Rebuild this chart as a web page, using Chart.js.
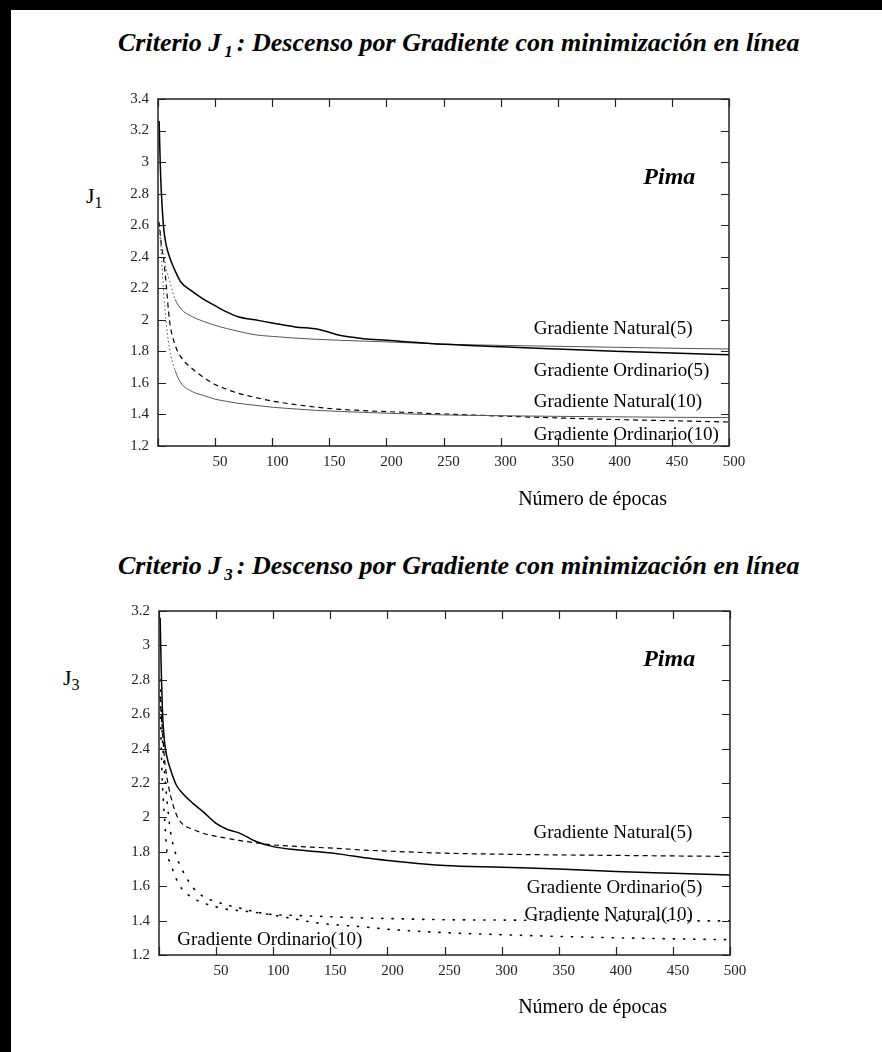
<!DOCTYPE html>
<html>
<head>
<meta charset="utf-8">
<script src="https://cdn.jsdelivr.net/npm/chart.js@4.4.1/dist/chart.umd.min.js"></script>
<style>
  html, body { margin:0; padding:0; background:#fff; }
  #page { position:relative; width:882px; height:1052px; overflow:hidden; background:#fff;
          font-family:"Liberation Serif", "Times New Roman", serif; color:#000; }
  .barIzq { position:absolute; left:0; top:0; width:11px; height:1052px; background:#000; z-index:5; }
  .barSup { position:absolute; left:0; top:0; width:882px; height:10px; background:#000; z-index:5; }
  canvas { position:absolute; left:0; }
  .titulo { position:absolute; font-weight:bold; font-style:italic; font-size:26px; line-height:30px; white-space:nowrap; }
  .titulo sub { font-size:17px; vertical-align:-6px; margin-left:3px; margin-right:4px; }
  .jlab { position:absolute; font-size:22px; line-height:24px; white-space:nowrap; }
  .jlab sub { font-size:16px; vertical-align:-5px; }
  .xlab { position:absolute; font-size:20px; line-height:24px; white-space:nowrap; text-align:right; width:200px; }
</style>
</head>
<body>
<div id="page">
  <div class="barIzq"></div>
  <div class="barSup"></div>

  <div class="titulo" style="left:118px; top:28px;">Criterio J<sub>1</sub>: Descenso por Gradiente con minimización en línea</div>
  <div class="jlab" style="left:86px; top:184px;">J<sub>1</sub></div>
  <canvas id="grafJ1" width="882" height="520" style="top:0px;"></canvas>
  <div class="xlab" style="left:467px; top:486px;">Número de épocas</div>

  <div class="titulo" style="left:118px; top:551px;">Criterio J<sub>3</sub>: Descenso por Gradiente con minimización en línea</div>
  <div class="jlab" style="left:63px; top:666px;">J<sub>3</sub></div>
  <canvas id="grafJ3" width="882" height="532" style="top:520px;"></canvas>
  <div class="xlab" style="left:467px; top:994px;">Número de épocas</div>
</div>

<script>
  // epocas (eje x) comunes a todas las curvas
  const epocas = [1, 2, 3, 5, 7, 10, 15, 20, 30, 40, 50, 60, 70, 85, 100, 120, 140, 160, 180, 200, 250, 300, 350, 400, 450, 500];

  // Criterio J1
  const j1Ordinario5  = [3.26, 2.98, 2.80, 2.58, 2.48, 2.40, 2.31, 2.24, 2.18, 2.13, 2.09, 2.05, 2.02, 2.00, 1.98, 1.955, 1.94, 1.90, 1.88, 1.87, 1.845, 1.83, 1.815, 1.80, 1.79, 1.778];
  const j1Natural5    = [2.62, 2.55, 2.48, 2.42, 2.33, 2.25, 2.13, 2.07, 2.02, 1.99, 1.965, 1.945, 1.928, 1.905, 1.895, 1.884, 1.876, 1.870, 1.865, 1.86, 1.846, 1.838, 1.832, 1.826, 1.82, 1.815];
  const j1Natural10   = [2.60, 2.50, 2.40, 2.17, 2.00, 1.82, 1.68, 1.60, 1.545, 1.52, 1.497, 1.483, 1.471, 1.458, 1.446, 1.435, 1.425, 1.419, 1.413, 1.408, 1.397, 1.392, 1.388, 1.385, 1.382, 1.38];
  const j1Ordinario10 = [2.62, 2.55, 2.47, 2.38, 2.24, 2.00, 1.84, 1.765, 1.69, 1.635, 1.59, 1.56, 1.535, 1.508, 1.485, 1.463, 1.445, 1.432, 1.424, 1.418, 1.403, 1.39, 1.378, 1.368, 1.36, 1.352];

  // Criterio J3
  const j3Ordinario5  = [3.16, 2.85, 2.62, 2.43, 2.35, 2.28, 2.19, 2.145, 2.08, 2.025, 1.965, 1.93, 1.91, 1.86, 1.83, 1.812, 1.80, 1.785, 1.765, 1.75, 1.72, 1.71, 1.70, 1.685, 1.675, 1.665];
  const j3Natural5    = [2.70, 2.60, 2.50, 2.33, 2.23, 2.13, 2.02, 1.965, 1.93, 1.905, 1.89, 1.878, 1.866, 1.852, 1.84, 1.832, 1.825, 1.818, 1.81, 1.804, 1.792, 1.786, 1.782, 1.779, 1.776, 1.773];
  const j3Natural10   = [2.80, 2.62, 2.45, 2.25, 2.10, 1.92, 1.78, 1.70, 1.59, 1.535, 1.51, 1.49, 1.474, 1.45, 1.435, 1.43, 1.425, 1.42, 1.415, 1.412, 1.405, 1.403, 1.401, 1.40, 1.399, 1.398];
  const j3Ordinario10 = [2.70, 2.40, 2.20, 1.98, 1.80, 1.735, 1.645, 1.585, 1.53, 1.50, 1.48, 1.465, 1.458, 1.447, 1.432, 1.408, 1.385, 1.373, 1.363, 1.35, 1.33, 1.318, 1.308, 1.30, 1.294, 1.289];

  const serie = (ys) => epocas.map((x, i) => ({x: x, y: ys[i]}));

  // marco con marcas hacia dentro + textos sobre el grafico
  const marco = {
    id: 'marco',
    afterDatasetsDraw(chart, args, opts) {
      const ctx = chart.ctx;
      const a = chart.chartArea;
      const sx = chart.scales.x, sy = chart.scales.y;
      ctx.save();
      ctx.strokeStyle = '#222';
      ctx.lineWidth = 1.5;
      ctx.strokeRect(a.left, a.top, a.right - a.left, a.bottom - a.top);
      ctx.lineWidth = 1.2;
      ctx.beginPath();
      sy.ticks.forEach(t => {
        const py = Math.round(sy.getPixelForValue(t.value)) + 0.5;
        ctx.moveTo(a.left, py); ctx.lineTo(a.left + 8, py);
        ctx.moveTo(a.right, py); ctx.lineTo(a.right - 8, py);
      });
      sx.ticks.forEach(t => {
        const px = Math.round(sx.getPixelForValue(t.value)) + 0.5;
        ctx.moveTo(px, a.bottom); ctx.lineTo(px, a.bottom - 8);
        ctx.moveTo(px, a.top); ctx.lineTo(px, a.top + 8);
      });
      ctx.stroke();
      ctx.fillStyle = '#000';
      ctx.textBaseline = 'middle';
      ctx.textAlign = 'left';
      opts.etiquetas.forEach(e => {
        ctx.font = e.font;
        ctx.fillText(e.texto, sx.getPixelForValue(e.x), sy.getPixelForValue(e.y));
      });
      ctx.restore();
    }
  };

  const fuenteTicks = {family: 'Liberation Serif', size: 15};
  const fuenteEtq = '19px "Liberation Serif"';
  const fuentePima = 'bold italic 24px "Liberation Serif"';

  function opciones(ymin, ymax, padding, etiquetas) {
    return {
      responsive: false,
      animation: false,
      devicePixelRatio: 1,
      layout: {padding: padding},
      plugins: {legend: {display: false}, tooltip: {enabled: false}, marco: {etiquetas: etiquetas}},
      elements: {point: {radius: 0}, line: {fill: false, cubicInterpolationMode: 'monotone'}},
      scales: {
        x: {
          type: 'linear', min: 0, max: 500,
          border: {display: false}, grid: {display: false, drawTicks: false},
          ticks: {stepSize: 50, padding: 7, labelOffset: 5, color: '#222', font: fuenteTicks,
                  maxRotation: 0, autoSkip: false, callback: v => v === 0 ? '' : v},
          afterFit: s => { s.height = 40; }
        },
        y: {
          min: ymin, max: ymax,
          border: {display: false}, grid: {display: false, drawTicks: false},
          ticks: {stepSize: 0.2, padding: 9, color: '#222', font: fuenteTicks,
                  callback: v => String(Math.round(v * 10) / 10)},
          afterFit: s => { s.width = 40; }
        }
      }
    };
  }

  const inicioPunteado = {borderDash: ctx => ctx.p1.parsed.x <= 15 ? [1.5, 2.5] : undefined};

  new Chart(document.getElementById('grafJ1'), {
    type: 'line',
    data: {
      datasets: [
        {label: 'Gradiente Ordinario(5)', data: serie(j1Ordinario5), borderColor: '#000', borderWidth: 1.5},
        {label: 'Gradiente Natural(5)', data: serie(j1Natural5), borderColor: '#555', borderWidth: 1, segment: inicioPunteado},
        {label: 'Gradiente Natural(10)', data: serie(j1Natural10), borderColor: '#555', borderWidth: 1, segment: inicioPunteado},
        {label: 'Gradiente Ordinario(10)', data: serie(j1Ordinario10), borderColor: '#000', borderWidth: 1.2, borderDash: [5, 4]}
      ]
    },
    options: opciones(1.2, 3.4, {left: 118, right: 153, top: 99, bottom: 34}, [
      {texto: 'Pima', x: 425, y: 2.90, font: fuentePima},
      {texto: 'Gradiente Natural(5)', x: 329, y: 1.942, font: fuenteEtq},
      {texto: 'Gradiente Ordinario(5)', x: 329, y: 1.675, font: fuenteEtq},
      {texto: 'Gradiente Natural(10)', x: 329, y: 1.479, font: fuenteEtq},
      {texto: 'Gradiente Ordinario(10)', x: 329, y: 1.269, font: fuenteEtq}
    ]),
    plugins: [marco]
  });

  new Chart(document.getElementById('grafJ3'), {
    type: 'line',
    data: {
      datasets: [
        {label: 'Gradiente Ordinario(5)', data: serie(j3Ordinario5), borderColor: '#000', borderWidth: 1.5},
        {label: 'Gradiente Natural(5)', data: serie(j3Natural5), borderColor: '#000', borderWidth: 1.2, borderDash: [5, 4]},
        {label: 'Gradiente Natural(10)', data: serie(j3Natural10), borderColor: '#000', borderWidth: 1.6, borderDash: [1.2, 9], borderCapStyle: 'round'},
        {label: 'Gradiente Ordinario(10)', data: serie(j3Ordinario10), borderColor: '#000', borderWidth: 1.6, borderDash: [1.2, 9], borderCapStyle: 'round'}
      ]
    },
    options: opciones(1.2, 3.2, {left: 119, right: 152, top: 91, bottom: 57}, [
      {texto: 'Pima', x: 424, y: 2.915, font: fuentePima},
      {texto: 'Gradiente Natural(5)', x: 328, y: 1.909, font: fuenteEtq},
      {texto: 'Gradiente Ordinario(5)', x: 322, y: 1.59, font: fuenteEtq},
      {texto: 'Gradiente Natural(10)', x: 320, y: 1.433, font: fuenteEtq},
      {texto: 'Gradiente Ordinario(10)', x: 16, y: 1.287, font: fuenteEtq}
    ]),
    plugins: [marco]
  });
</script>
</body>
</html>
